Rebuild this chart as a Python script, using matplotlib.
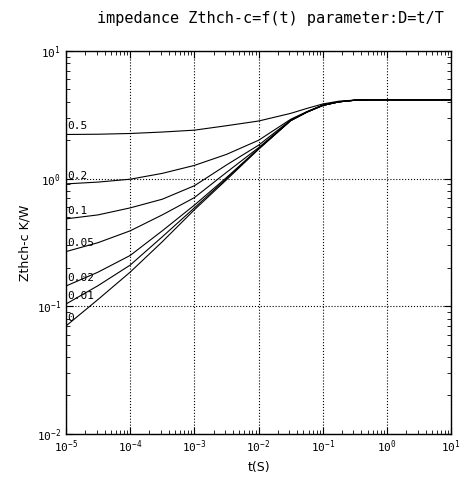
import numpy as np
import matplotlib
matplotlib.use('Agg')
import matplotlib.pyplot as plt

# 时间点 t (s) 的指数
log_t = [-5, -4.5, -4, -3.5, -3, -2.5, -2, -1.5, -1.25, -1, -0.75, -0.5, -0.25, 0, 1]
t = [10.0 ** e for e in log_t]

# 各占空比 D 下的热阻抗 Zthch-c (K/W)
z_05 = [2.22, 2.23, 2.26, 2.32, 2.40, 2.60, 2.83, 3.25, 3.55, 3.85, 4.05, 4.13, 4.15, 4.15, 4.15]
z_02 = [0.91, 0.94, 0.99, 1.10, 1.27, 1.55, 2.00, 2.92, 3.35, 3.78, 4.00, 4.12, 4.15, 4.15, 4.15]
z_01 = [0.484, 0.52, 0.59, 0.69, 0.88, 1.28, 1.83, 2.88, 3.33, 3.76, 4.00, 4.12, 4.15, 4.15, 4.15]
z_005 = [0.268, 0.315, 0.39, 0.52, 0.71, 1.12, 1.75, 2.86, 3.32, 3.75, 4.00, 4.12, 4.15, 4.15, 4.15]
z_002 = [0.144, 0.185, 0.25, 0.39, 0.62, 1.02, 1.72, 2.85, 3.32, 3.75, 4.00, 4.12, 4.15, 4.15, 4.15]
z_001 = [0.104, 0.145, 0.21, 0.35, 0.59, 1.00, 1.71, 2.85, 3.32, 3.75, 4.00, 4.12, 4.15, 4.15, 4.15]
z_0 = [0.070, 0.113, 0.185, 0.32, 0.57, 0.98, 1.70, 2.85, 3.32, 3.75, 4.00, 4.12, 4.15, 4.15, 4.15]

labels = ['0.5', '0.2', '0.1', '0.05', '0.02', '0.01', '0']
curves = [z_05, z_02, z_01, z_005, z_002, z_001, z_0]

plt.rcParams['font.family'] = 'DejaVu Sans Mono'

fig = plt.figure(figsize=(4.71, 4.82), dpi=100)
ax = fig.add_axes([0.140, 0.100, 0.818, 0.794])

for lab, z in zip(labels, curves):
    ax.plot(t, z, color='black', linewidth=0.8)
    # 曲线左端的参数标注
    ax.text(1.03e-5, z[0] * 1.06, lab, fontsize=8, ha='left', va='bottom')

ax.set_xscale('log')
ax.set_yscale('log')
ax.set_xlim(1e-5, 1e1)
ax.set_ylim(1e-2, 1e1)

ax.tick_params(which='both', direction='in', top=True, right=True, labelsize=8)
ax.tick_params(which='major', length=5)
ax.tick_params(which='minor', length=3)

ax.grid(True, which='major', linestyle=':', color='black', linewidth=0.8)

for s in ax.spines.values():
    s.set_linewidth(1.0)

ax.set_xlabel('t(S)', fontsize=9, family='DejaVu Sans')
ax.set_ylabel('Zthch-c K/W', fontsize=9, family='DejaVu Sans')
fig.text(0.575, 0.962, 'impedance Zthch-c=f(t) parameter:D=t/T', ha='center', va='center', fontsize=11)

fig.savefig('out.png', dpi=100)
